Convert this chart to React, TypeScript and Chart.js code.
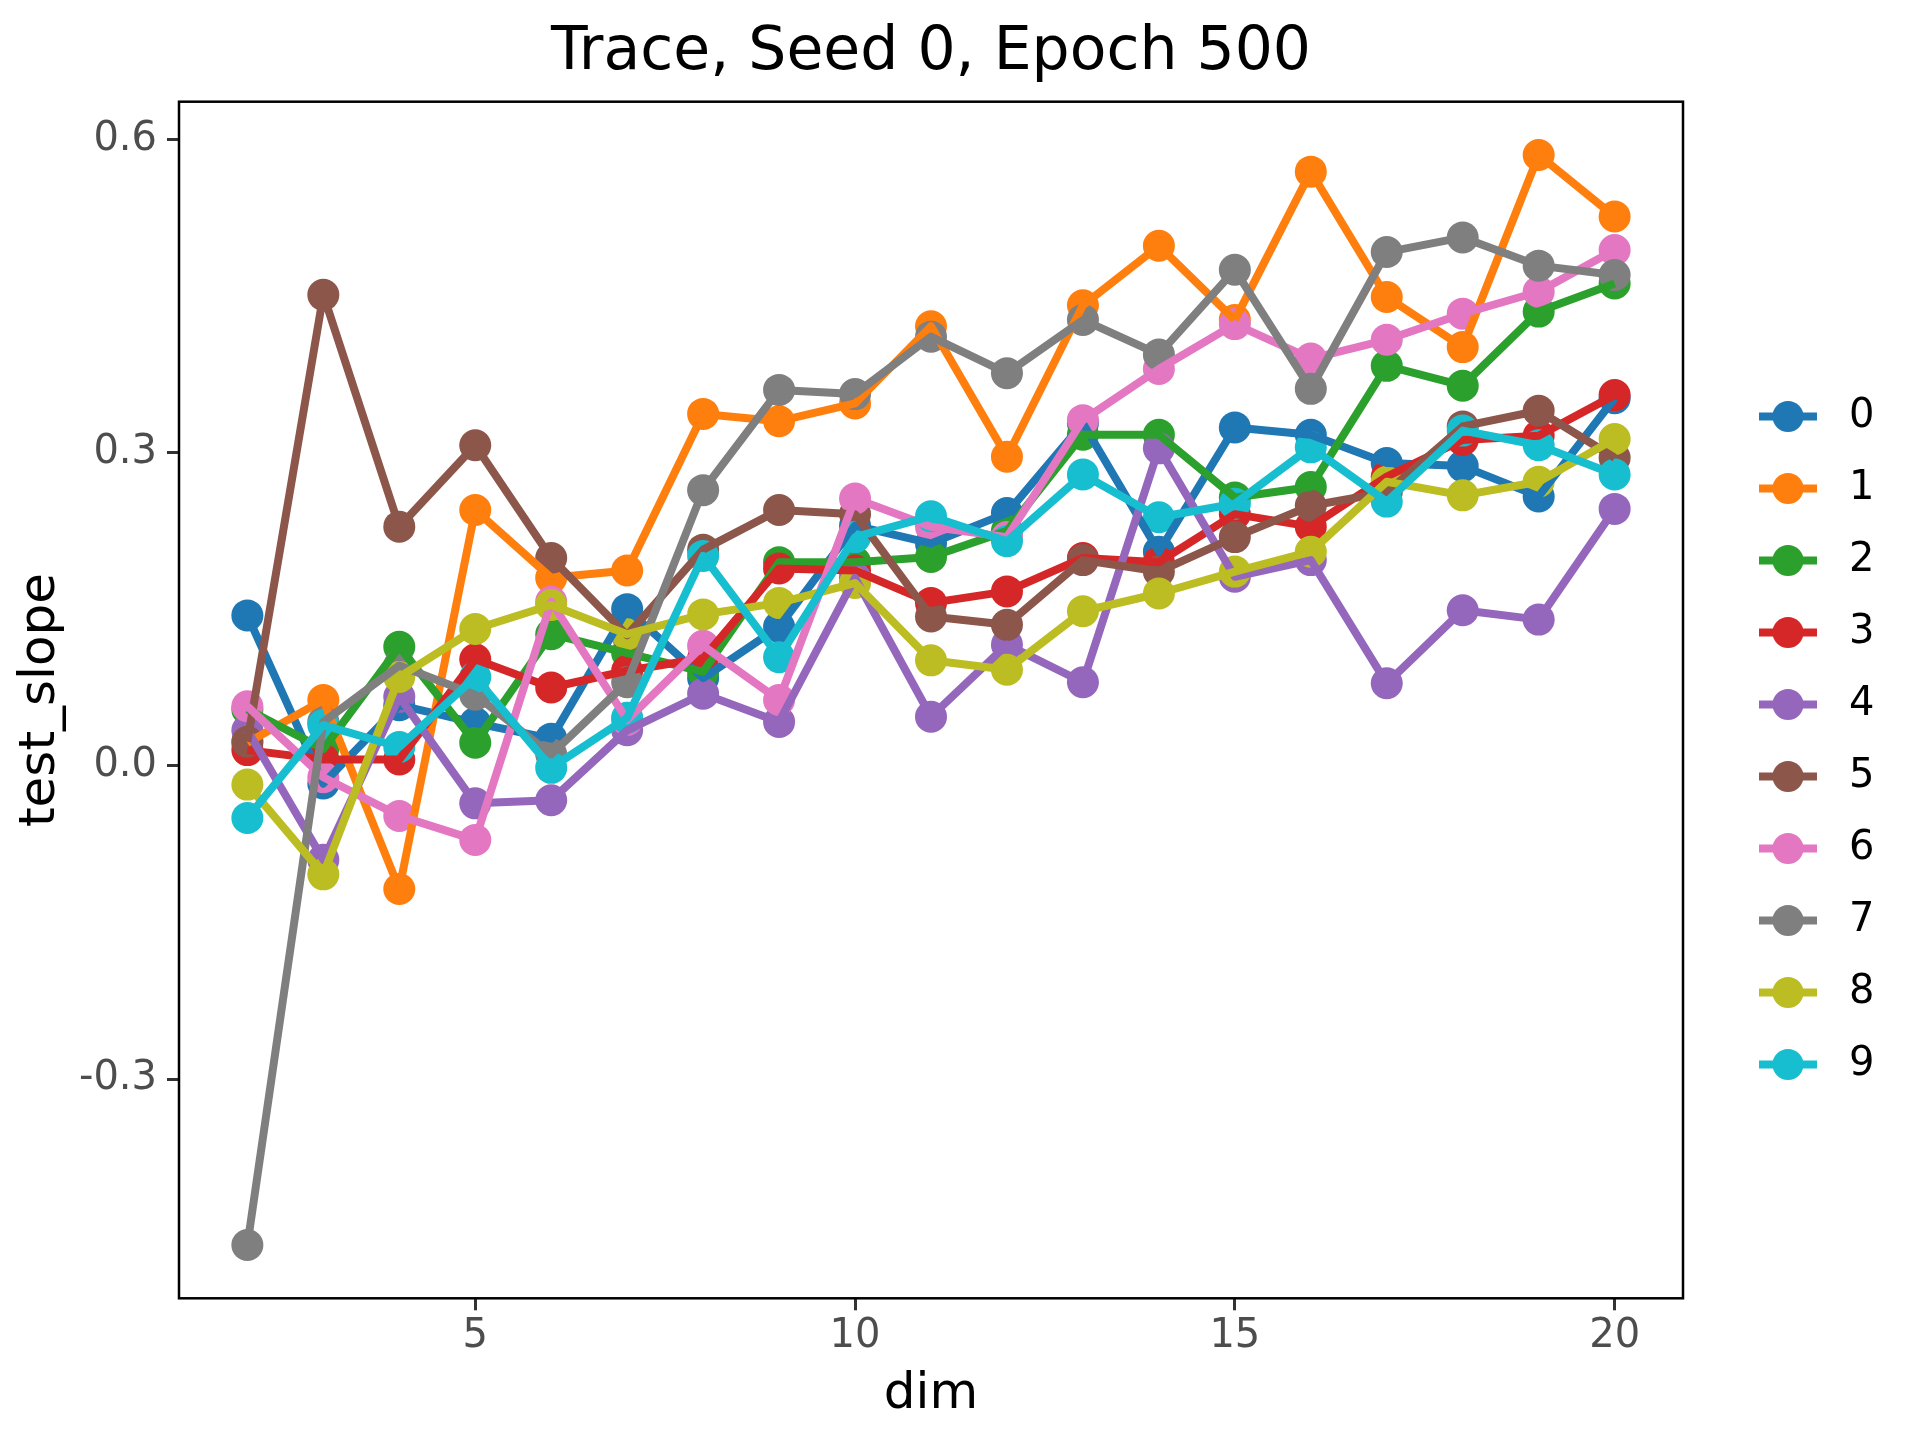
import React, { useEffect, useRef } from "react";
import { Chart, registerables } from "chart.js";

Chart.register(...registerables);

// ---------------- data ----------------
const dims = [2, 3, 4, 5, 6, 7, 8, 9, 10, 11, 12, 13, 14, 15, 16, 17, 18, 19, 20];

const seriesNames = ["0", "1", "2", "3", "4", "5", "6", "7", "8", "9"];
const seriesColors = [
  "#1f77b4", "#ff7f0e", "#2ca02c", "#d62728", "#9467bd",
  "#8c564b", "#e377c2", "#7f7f7f", "#bcbd22", "#17becf",
];

const series0 = [0.144, -0.017, 0.058, 0.041, 0.026, 0.150, 0.084, 0.133, 0.230, 0.213, 0.242, 0.328, 0.205, 0.324, 0.317, 0.290, 0.287, 0.258, 0.352];
const series1 = [0.022, 0.063, -0.118, 0.245, 0.180, 0.187, 0.337, 0.330, 0.347, 0.421, 0.296, 0.441, 0.498, 0.427, 0.569, 0.449, 0.401, 0.585, 0.526];
const series2 = [0.054, 0.016, 0.114, 0.022, 0.126, 0.108, 0.090, 0.195, 0.195, 0.200, 0.225, 0.317, 0.317, 0.257, 0.267, 0.383, 0.364, 0.435, 0.462];
const series3 = [0.015, 0.006, 0.006, 0.102, 0.075, 0.091, 0.103, 0.189, 0.187, 0.156, 0.167, 0.199, 0.195, 0.241, 0.229, 0.277, 0.312, 0.316, 0.355];
const series4 = [0.034, -0.090, 0.066, -0.036, -0.033, 0.034, 0.069, 0.042, 0.180, 0.047, 0.116, 0.080, 0.304, 0.181, 0.197, 0.079, 0.149, 0.140, 0.246];
const series5 = [0.023, 0.451, 0.229, 0.307, 0.199, 0.125, 0.207, 0.245, 0.241, 0.143, 0.135, 0.197, 0.186, 0.219, 0.249, 0.262, 0.325, 0.340, 0.295];
const series6 = [0.057, -0.011, -0.048, -0.071, 0.157, 0.044, 0.115, 0.063, 0.256, 0.229, 0.219, 0.331, 0.380, 0.423, 0.390, 0.408, 0.433, 0.454, 0.494];
const series7 = [-0.459, 0.042, 0.096, 0.068, 0.011, 0.080, 0.264, 0.360, 0.356, 0.411, 0.376, 0.427, 0.394, 0.475, 0.361, 0.492, 0.506, 0.479, 0.470];
const series8 = [-0.018, -0.104, 0.085, 0.131, 0.154, 0.126, 0.145, 0.156, 0.175, 0.101, 0.092, 0.148, 0.165, 0.186, 0.205, 0.272, 0.259, 0.272, 0.313];
const series9 = [-0.050, 0.039, 0.018, 0.085, -0.002, 0.046, 0.201, 0.104, 0.219, 0.239, 0.215, 0.279, 0.238, 0.251, 0.305, 0.253, 0.321, 0.307, 0.279];

const allSeries = [series0, series1, series2, series3, series4, series5, series6, series7, series8, series9];

const xTicks = [5, 10, 15, 20];
const yTicks = [-0.3, 0.0, 0.3, 0.6];
const xRange = [1.1, 20.9];
const yRange = [-0.510, 0.636];

const chartTitle = "Trace, Seed 0, Epoch 500";
const xTitle = "dim";
const yTitle = "test_slope";

// ---------------- styling ----------------
const FONT = "DejaVu Sans";
const W = 1920;
const H = 1440;

const decorPlugin = {
  id: "decor",
  afterDraw(chart: any) {
    const { ctx, chartArea } = chart;
    const { left, right, top, bottom } = chartArea;
    ctx.save();
    // panel border
    ctx.strokeStyle = "#000000";
    ctx.lineWidth = 2.5;
    ctx.strokeRect(left, top, right - left, bottom - top);

    // title
    ctx.fillStyle = "#000000";
    ctx.font = `60px "${FONT}"`;
    ctx.textAlign = "center";
    ctx.textBaseline = "alphabetic";
    ctx.fillText(chartTitle, (left + right) / 2, 69);

    // legend
    const n = seriesNames.length;
    const spacing = 72;
    const centerY = 740.5;
    const y0 = centerY - (spacing * (n - 1)) / 2;
    const lineX0 = right + 76;
    const lineX1 = right + 134;
    const circX = right + 105;
    const textX = right + 166;
    for (let k = 0; k < n; k++) {
      const y = y0 + k * spacing;
      ctx.strokeStyle = seriesColors[k];
      ctx.lineWidth = 8;
      ctx.lineCap = "butt";
      ctx.beginPath();
      ctx.moveTo(lineX0, y);
      ctx.lineTo(lineX1, y);
      ctx.stroke();
      ctx.fillStyle = seriesColors[k];
      ctx.beginPath();
      ctx.arc(circX, y, 15.5, 0, Math.PI * 2);
      ctx.fill();
      ctx.fillStyle = "#000000";
      ctx.font = `40px "${FONT}"`;
      ctx.textAlign = "left";
      ctx.textBaseline = "middle";
      ctx.fillText(seriesNames[k], textX, y);
    }
    ctx.restore();
  },
};

export default function App() {
  const canvasRef = useRef<HTMLCanvasElement | null>(null);

  useEffect(() => {
    document.body.style.margin = "0";
    const canvas = canvasRef.current;
    if (!canvas) return;

    Chart.defaults.font.family = FONT;

    const pointSets = allSeries.map((s, k) => ({
      label: seriesNames[k] + "_pts",
      data: dims.map((d, i) => ({ x: d, y: s[i] })),
      showLine: false,
      pointRadius: 16,
      pointHoverRadius: 16,
      pointBackgroundColor: seriesColors[k],
      pointBorderColor: seriesColors[k],
      pointBorderWidth: 0,
      borderColor: seriesColors[k],
      backgroundColor: seriesColors[k],
      order: 20 - k,
    }));

    const lineSets = allSeries.map((s, k) => ({
      label: seriesNames[k],
      data: dims.map((d, i) => ({ x: d, y: s[i] })),
      showLine: true,
      pointRadius: 0,
      pointHoverRadius: 0,
      borderColor: seriesColors[k],
      backgroundColor: seriesColors[k],
      borderWidth: 8,
      borderJoinStyle: "round" as const,
      borderCapStyle: "butt" as const,
      tension: 0,
      fill: false,
      order: 10 - k,
    }));

    const chart = new Chart(canvas, {
      type: "line",
      data: { datasets: [...pointSets, ...lineSets] as any },
      options: {
        responsive: false,
        devicePixelRatio: 1,
        animation: false,
        events: [],
        layout: { padding: { left: 0, top: 101.7, right: 237, bottom: 0 } },
        plugins: {
          legend: { display: false },
          tooltip: { enabled: false },
          title: { display: false },
        },
        scales: {
          x: {
            type: "linear",
            min: xRange[0],
            max: xRange[1],
            bounds: "data",
            afterBuildTicks: (scale: any) => {
              scale.ticks = xTicks.map((v) => ({ value: v }));
            },
            afterFit: (scale: any) => {
              scale.height = 141.7;
            },
            grid: {
              drawOnChartArea: false,
              drawTicks: true,
              tickLength: 12,
              color: "#333333",
              lineWidth: 3,
            },
            border: { display: false },
            ticks: {
              autoSkip: false,
              maxRotation: 0,
              padding: 2,
              color: "#4D4D4D",
              font: { family: FONT, size: 40 },
              callback: (v: any) => String(v),
            },
            title: {
              display: true,
              text: xTitle,
              color: "#000000",
              font: { family: FONT, size: 50, lineHeight: 1 },
              padding: { top: 0, bottom: 20 },
            },
          },
          y: {
            type: "linear",
            min: yRange[0],
            max: yRange[1],
            bounds: "data",
            afterBuildTicks: (scale: any) => {
              scale.ticks = yTicks.map((v) => ({ value: v }));
            },
            afterFit: (scale: any) => {
              scale.width = 179;
            },
            grid: {
              drawOnChartArea: false,
              drawTicks: true,
              tickLength: 12,
              color: "#333333",
              lineWidth: 3,
            },
            border: { display: false },
            ticks: {
              autoSkip: false,
              padding: 10,
              color: "#4D4D4D",
              font: { family: FONT, size: 40 },
              callback: (v: any) => Number(v).toFixed(1),
            },
            title: {
              display: true,
              text: yTitle,
              color: "#000000",
              font: { family: FONT, size: 50, lineHeight: 1 },
              padding: { top: 16, bottom: 0 },
            },
          },
        },
      },
      plugins: [decorPlugin],
    });

    return () => {
      chart.destroy();
    };
  }, []);

  return (
    <canvas
      ref={canvasRef}
      width={W}
      height={H}
      style={{ display: "block", width: W, height: H }}
    />
  );
}
